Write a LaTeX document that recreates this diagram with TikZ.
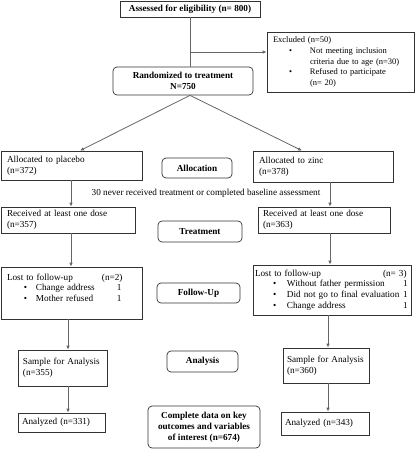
\documentclass[tikz,border=0pt]{standalone}
\usepackage{fontspec}
\setmainfont{Liberation Serif}
\usetikzlibrary{arrows.meta}
\newcommand{\fs}{\fontsize{9.2}{10.8}\selectfont}
\newcommand{\fss}{\fontsize{8.5}{10.8}\selectfont}
\tikzset{
  base/.style={draw=black!80, line width=0.7pt, inner sep=0pt, font=\fs},
  sz/.style 2 args={minimum width=#1, minimum height=#2},
  lbox/.style={base, align=left},
  sbox/.style={base, align=center, font=\fs\bfseries},
  rbox/.style={base, rounded corners=4pt, align=center, font=\fs\bfseries},
  conn/.style={draw=black!60, line width=0.8pt},
  arr/.style={conn, -{Latex[length=4pt,width=3.6pt]}},
}
\begin{document}
\begin{tikzpicture}[x=1pt,y=-1pt]
\useasboundingbox (0,0) rectangle (415,450);
\coordinate (pcol) at (71,0);
\coordinate (pcol2) at (68,0);
\coordinate (zcol) at (330,0);
\coordinate (zcol2) at (328,0);
\coordinate (branch) at (190,52);

\node[sbox, sz={140pt}{16pt}] (assess) at (190,9) {Assessed for eligibility (n= 800)};
\node[lbox, sz={147pt}{60pt}, text width=135pt, font=\fss] (excl) at (340.5,62)
 {Excluded (n=50)\\
  \hspace*{16pt}\makebox[21pt][l]{\textbullet}Not meeting inclusion\\
  \hspace*{37pt}criteria due to age (n=30)\\
  \hspace*{16pt}\makebox[21pt][l]{\textbullet}Refused to participate\\
  \hspace*{37pt}(n= 20)};
\node[rbox, sz={140pt}{28pt}] (rand) at (183,81) {Randomized to treatment\\N=750};

\node[lbox, sz={141pt}{29pt}, text width=129pt] (plac) at (71.5,165.5) {Allocated to placebo\\(n=372)};
\node[rbox, sz={70pt}{20pt}] (alloc) at (197,168) {Allocation};
\node[lbox, sz={140pt}{31pt}, text width=128pt] (zinc) at (323,166.5) {Allocated to zinc\\(n=378)};

\node[font=\fs, inner sep=0pt] (note) at (206,193) {30 never received treatment or completed baseline assessment};

\node[lbox, sz={134pt}{26pt}, text width=122pt] (recP) at (68,220) {Received at least one dose\\(n=357)};
\node[rbox, sz={84pt}{21pt}] (treat) at (200,231.5) {Treatment};
\node[lbox, sz={132pt}{26pt}, text width=122pt] (recZ) at (324,220) {Received at least one dose\\(n=363)};

\node[lbox, sz={141pt}{52pt}, text width=129pt] (lostP) at (71.5,293)
 {\makebox[95pt][l]{Lost to follow-up}(n=2)\\
  \hspace*{17pt}\makebox[12pt][l]{\textbullet}\makebox[81pt][l]{Change address}1\\
  \hspace*{17pt}\makebox[12pt][l]{\textbullet}\makebox[81pt][l]{Mother refused}1\\
  \mbox{}};
\node[rbox, sz={83pt}{20pt}] (follow) at (198.5,293) {Follow-Up};
\node[lbox, sz={158pt}{50pt}, text width=154pt] (lostZ) at (332,290)
 {\makebox[128pt][l]{Lost to follow-up}(n= 3)\\
  \hspace*{18pt}\makebox[14pt][l]{\textbullet}\makebox[116pt][l]{Without father permission}1\\
  \hspace*{18pt}\makebox[14pt][l]{\textbullet}\makebox[116pt][l]{Did not go to final evaluation}1\\
  \hspace*{18pt}\makebox[14pt][l]{\textbullet}\makebox[116pt][l]{Change address}1};

\node[lbox, sz={89pt}{36pt}, text width=79pt] (sampP) at (62.5,368) {Sample for Analysis\\(n=355)};
\node[rbox, sz={71pt}{21pt}] (anal) at (202.5,361.5) {Analysis};
\node[lbox, sz={86pt}{35pt}, text width=78pt] (sampZ) at (326,365.5) {Sample for Analysis\\(n=360)};

\node[lbox, sz={87pt}{19pt}, text width=79pt] (anlP) at (61.5,422.5) {Analyzed (n=331)};
\node[rbox, sz={112pt}{42pt}] (complete) at (204,427) {Complete data on key\\outcomes and variables\\of interest (n=674)};
\node[lbox, sz={88pt}{23pt}, text width=80pt] (anlZ) at (325,423.5) {Analyzed (n=343)};

\draw[conn] (assess.south) -- (assess.south |- rand.north);
\draw[arr] (branch) -- (branch -| excl.west);
\draw[arr] (assess.south |- rand.south) -- ([xshift=8.5pt]plac.north);
\draw[arr] (assess.south |- rand.south) -- ([xshift=-21pt]zinc.north);

\draw[arr] (plac.south -| pcol) -- (recP.north -| pcol);
\draw[arr] (recP.south -| pcol) -- (lostP.north -| pcol);
\draw[arr] (lostP.south -| pcol2) -- (sampP.north -| pcol2);
\draw[arr] (sampP.south -| pcol2) -- (anlP.north -| pcol2);

\draw[arr] (zinc.south -| zcol) -- (recZ.north -| zcol);
\draw[arr] (recZ.south -| zcol) -- (lostZ.north -| zcol);
\draw[arr] (lostZ.south -| zcol2) -- (sampZ.north -| zcol2);
\draw[arr] (sampZ.south -| zcol2) -- (anlZ.north -| zcol2);
\end{tikzpicture}
\end{document}
